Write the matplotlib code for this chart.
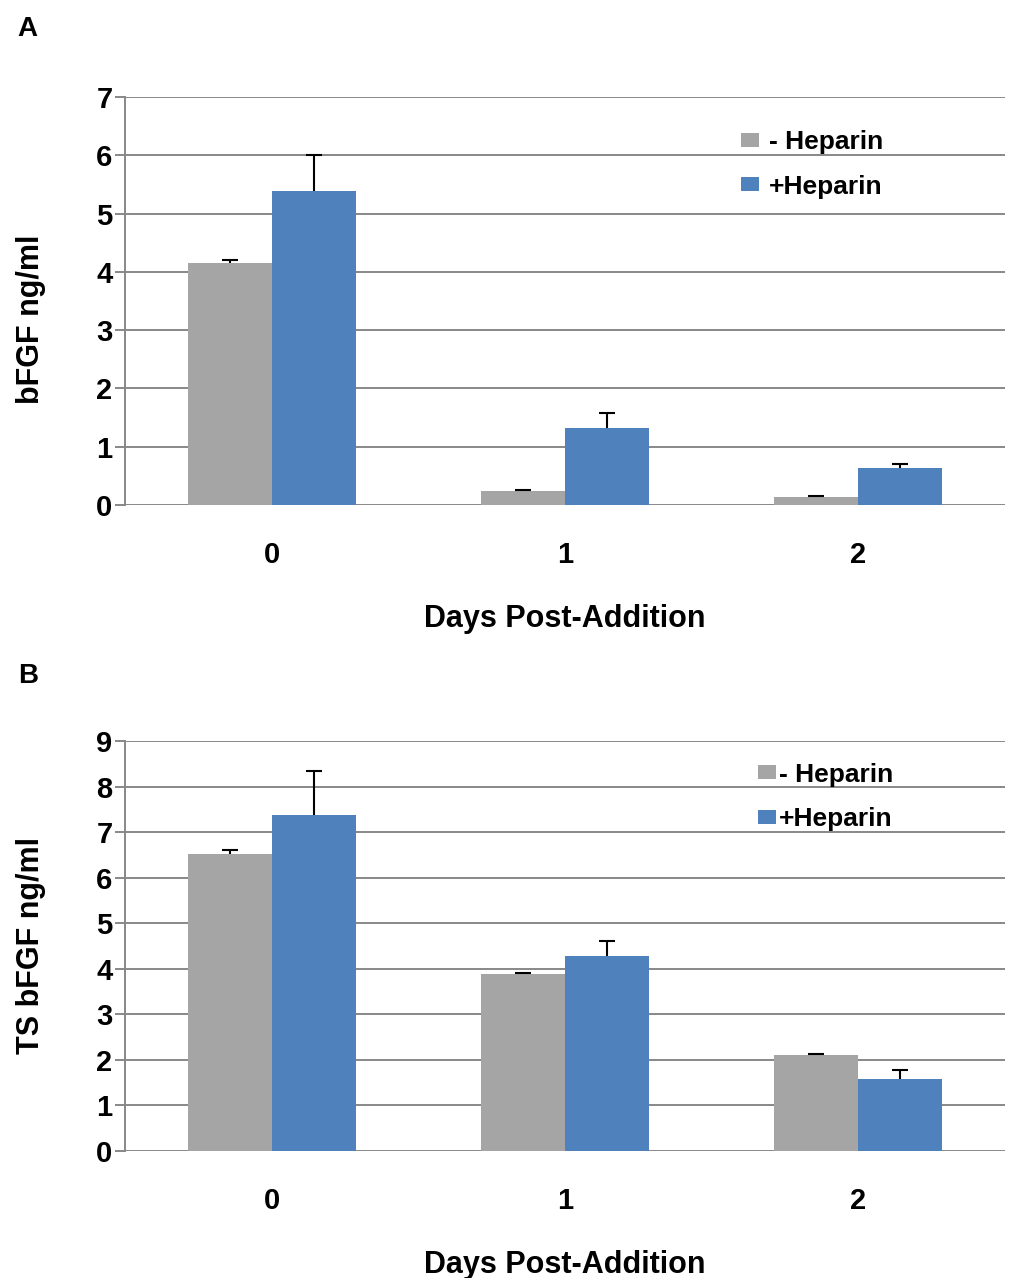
import numpy as np
import matplotlib
matplotlib.use("Agg")
import matplotlib.pyplot as plt

plt.rcParams['font.family'] = ['Liberation Sans', 'DejaVu Sans']
plt.rcParams['font.weight'] = 'bold'

days = ["0", "1", "2"]
series = ["- Heparin", "+Heparin"]

# panel A: bFGF ng/ml
a_minus = [4.15, 0.24, 0.14]
a_minus_err = [0.06, 0.02, 0.01]
a_plus = [5.38, 1.32, 0.63]
a_plus_err = [0.62, 0.25, 0.07]

# panel B: TS bFGF ng/ml
b_minus = [6.53, 3.89, 2.10]
b_minus_err = [0.08, 0.01, 0.03]
b_plus = [7.37, 4.29, 1.58]
b_plus_err = [0.98, 0.31, 0.19]

GRAY = "#a5a5a5"
BLUE = "#4f81bd"
GRID = "#888888"

fig = plt.figure(figsize=(10.13, 12.78), dpi=100)


def up_err(ax, x, y, err):
    # only the upper half of the error bar, like the original
    _, caps, _ = ax.errorbar(x, y, yerr=[np.zeros(len(y)), err], fmt="none",
                             ecolor="black", elinewidth=1.5, capsize=5.5,
                             capthick=1.5, zorder=3)
    caps[0].set_visible(False)


def panel(rect, minus, minus_err, plus, plus_err, ymax, ylabel, letter,
          leg_xy, ylab_y, textpad):
    ax = fig.add_axes(rect)
    x = np.arange(len(days))
    w = 0.286
    ax.bar(x - w / 2, minus, w, color=GRAY, label=series[0], zorder=2)
    ax.bar(x + w / 2, plus, w, color=BLUE, label=series[1], zorder=2)
    up_err(ax, x - w / 2, minus, minus_err)
    up_err(ax, x + w / 2, plus, plus_err)
    ax.set_xlim(-0.5, 2.5)
    ax.set_ylim(0, ymax)
    ax.set_yticks(range(ymax + 1))
    ax.set_xticks(x)
    ax.set_xticklabels(days)
    ax.yaxis.grid(True, color=GRID, linewidth=1.4, zorder=0)
    ax.set_axisbelow(True)
    for s in ["top", "right", "bottom"]:
        ax.spines[s].set_visible(False)
    ax.spines["left"].set_color(GRID)
    ax.spines["left"].set_linewidth(1.4)
    ax.tick_params(axis="y", length=7, width=1.4, color=GRID, pad=2, labelsize=21)
    ax.tick_params(axis="x", length=0, pad=26, labelsize=21)
    ax.set_xlabel("Days Post-Addition", fontsize=22, fontweight="bold", labelpad=25)
    ax.set_ylabel(ylabel, fontsize=22, fontweight="bold")
    ax.yaxis.set_label_coords(-0.09, ylab_y)
    ax.text(-0.122, 1.2 if ymax == 7 else 1.19, letter, transform=ax.transAxes,
            fontsize=20, fontweight="bold", va="top", ha="left")
    ax.legend(loc="upper left", bbox_to_anchor=leg_xy, frameon=False, fontsize=19,
              handlelength=0.7, handleheight=0.45, handletextpad=textpad,
              labelspacing=0.78, borderaxespad=0, borderpad=0)
    return ax


panel([0.1234, 0.605, 0.8686, 0.319], a_minus, a_minus_err, a_plus, a_plus_err,
      7, "bFGF ng/ml", "A", (0.70, 0.919), 0.455, 0.35)
panel([0.1234, 0.0994, 0.8686, 0.3208], b_minus, b_minus_err, b_plus, b_plus_err,
      9, "TS bFGF ng/ml", "B", (0.719, 0.947), 0.5, 0.1)

fig.savefig("out.png", dpi=100)
